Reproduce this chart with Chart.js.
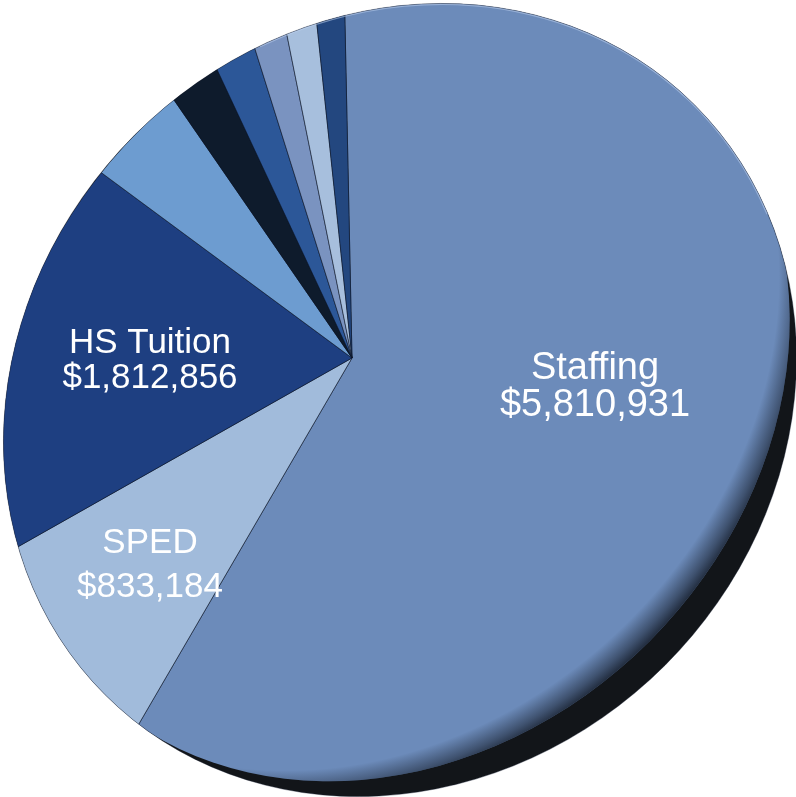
<!DOCTYPE html>
<html>
<head>
<meta charset="utf-8">
<script src="https://cdn.jsdelivr.net/npm/chart.js@4.4.1/dist/chart.umd.min.js"></script>
<style>
  html, body { margin: 0; padding: 0; background: #fff; overflow: hidden; }
  #wrap { position: relative; width: 796px; height: 797px; }
</style>
</head>
<body>
<div id="wrap"><canvas id="budget"></canvas></div>
<script>
// slices clockwise from 12 o'clock; the small ones carry no label in the picture
const categories = ['Staffing', 'SPED', 'HS Tuition', '', '', '', '', '', ''];
// dollars (small slices estimated from their angle)
const amounts = [5810931, 833184, 1812856, 520000, 262000, 210000, 166000, 148000, 132000];
const sliceColors = ['#6c8bba', '#a1bbdb', '#1e3f81', '#6d9cd0', '#0e1b2c', '#2c5798', '#7a93c0', '#a7bfdd', '#23477f'];
// slices that get a printed name + amount
const labelled = [0, 1, 2];

const fmt = v => '$' + v.toLocaleString('en-US');

// tilted 3D pie: the apex sits up-left of the disc. "disc" is the whole
// slanted outline (dark side included), "face" the top the slices show on.
const tilt = -Math.PI / 4;
const disc = { dx: 48, dy: 42, a: 417, b: 375 };
const face = { dx: 42.3, dy: 27.9, a: 427, b: 361 };
const labelSpots = {
  0: { dx: 243, dy: 21, lh: 37, size: 38 },
  1: { dx: -202, dy: 195, lh: 44, size: 35 },
  2: { dx: -202, dy: -5, lh: 35, size: 35 }
};

function ellipsePath(ctx, x, y, e, from = 0, to = Math.PI * 2) {
  ctx.beginPath();
  ctx.ellipse(x + e.dx, y + e.dy, e.a, e.b, tilt, from, to);
}

const pieFace = {
  id: 'pieFace',
  beforeDatasetsDraw(chart) {
    const { ctx } = chart;
    const { x, y } = chart.getDatasetMeta(0).data[0];
    ctx.save();
    ellipsePath(ctx, x, y, disc);
    ctx.fillStyle = '#121519';
    ctx.fill();
    ctx.clip();
    ellipsePath(ctx, x, y, face);
    ctx.clip();
  },
  afterDatasetsDraw(chart) {
    const { ctx } = chart;
    const { x, y } = chart.getDatasetMeta(0).data[0];

    // face darkens toward its lower-right edge
    ctx.save();
    ctx.translate(x + face.dx, y + face.dy);
    ctx.rotate(tilt);
    ctx.scale(face.a, face.b);
    const g = ctx.createRadialGradient(0, -0.15, 0, 0, -0.15, 1.15);
    g.addColorStop(0, 'rgba(8,12,20,0)');
    g.addColorStop(0.93, 'rgba(8,12,20,0)');
    g.addColorStop(0.975, 'rgba(8,12,20,0.45)');
    g.addColorStop(1, 'rgba(8,12,20,0.75)');
    ctx.fillStyle = g;
    ctx.fillRect(-2, -2, 4, 4);
    ctx.restore();

    // light catch along the upper-right rim
    ellipsePath(ctx, x, y, disc, -1.2, 0.35);
    ctx.strokeStyle = 'rgba(190,210,240,0.55)';
    ctx.lineWidth = 3;
    ctx.stroke();
    ctx.restore();

    ctx.save();
    ellipsePath(ctx, x, y, disc);
    ctx.strokeStyle = 'rgba(20,30,50,0.35)';
    ctx.lineWidth = 1;
    ctx.stroke();

    // labels
    ctx.fillStyle = '#ffffff';
    ctx.textAlign = 'center';
    ctx.textBaseline = 'alphabetic';
    labelled.forEach(i => {
      const s = labelSpots[i];
      ctx.font = s.size + 'px "Liberation Sans", Arial, sans-serif';
      const lines = [categories[i], fmt(amounts[i])];
      lines.forEach((t, k) => ctx.fillText(t, x + s.dx, y + s.dy + k * s.lh));
    });
    ctx.restore();
  }
};

new Chart(document.getElementById('budget').getContext('2d'), {
  type: 'pie',
  data: {
    labels: categories,
    datasets: [{
      data: amounts,
      backgroundColor: sliceColors,
      borderColor: 'rgba(12,22,40,0.55)',
      borderWidth: 1,
      radius: 480,
      clip: false
    }]
  },
  options: {
    responsive: true,
    maintainAspectRatio: false,
    animation: false,
    rotation: -1.2,
    layout: { padding: { left: 0, top: 0, right: 92, bottom: 81 } },
    plugins: {
      legend: { display: false },
      tooltip: { enabled: false }
    }
  },
  plugins: [pieFace]
});
</script>
</body>
</html>
